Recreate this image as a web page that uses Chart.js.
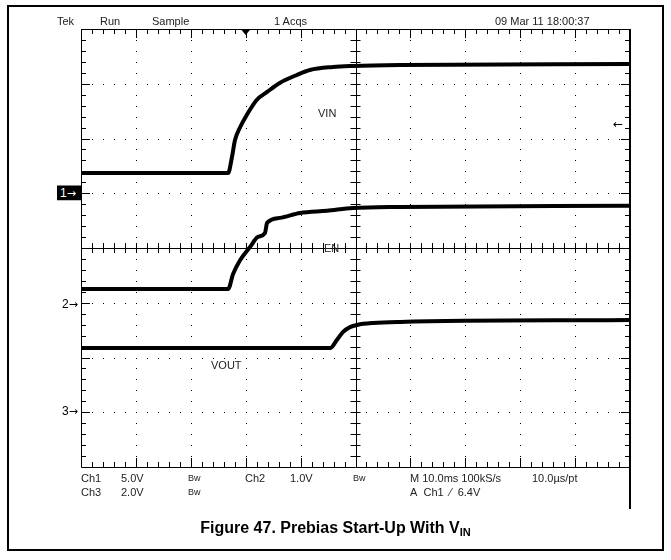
<!doctype html>
<html lang="en">
  <head>
    <script src="https://cdn.jsdelivr.net/npm/chart.js"></script>
    <meta charset="UTF-8" />
    <title>Prebias Start-Up With VIN</title>
    <style>
      body {
        margin: 0;
        background: #fff;
        font-family: "Liberation Sans", Arial, sans-serif;
      }
      #wrap {
        position: relative;
        width: 671px;
        height: 560px;
      }
      #frame {
        position: absolute;
        left: 7px;
        top: 5px;
        width: 653px;
        height: 542px;
        border: 2px solid #000;
      }
      canvas {
        position: absolute;
        left: 0;
        top: 0;
      }
      .t {
        position: absolute;
        font-size: 11px;
        line-height: 12px;
        color: #222;
        white-space: nowrap;
        transform: translateY(-50%);
      }
      .bw {
        font-size: 9px;
      }
      .mk {
        position: absolute;
        font-size: 12px;
        line-height: 15px;
        white-space: nowrap;
        transform: translateY(-50%);
      }
      .ar {
        font-family: "DejaVu Sans", sans-serif;
        font-size: 11px;
      }
      #caption {
        position: absolute;
        left: 0;
        width: 671px;
        top: 519px;
        text-align: center;
        font-weight: bold;
        font-size: 16px;
        line-height: 18px;
      }
      #caption sub {
        font-size: 11px;
        vertical-align: -3px;
      }
    </style>
  </head>
  <body>
    <div id="wrap">
      <div id="frame"></div>
      <canvas id="scope" width="671" height="560"></canvas>

      <div class="t" style="left: 57px; top: 21px">Tek</div>
      <div class="t" style="left: 100px; top: 21px">Run</div>
      <div class="t" style="left: 152px; top: 21px">Sample</div>
      <div class="t" style="left: 274px; top: 21px">1 Acqs</div>
      <div class="t" style="left: 495px; top: 21px">09 Mar 11 18:00:37</div>

      <div class="t" style="left: 318px; top: 113px">VIN</div>
      <div class="t" style="left: 324px; top: 248px">EN</div>
      <div class="t" style="left: 211px; top: 365px">VOUT</div>

      <div class="mk" style="left: 57px; top: 193px; background: #000; color: #fff; padding: 0 1px 0 3px; width: 20px">1<span class="ar">&#8594;</span></div>
      <div class="mk" style="left: 62px; top: 304px">2<span class="ar">&#8594;</span></div>
      <div class="mk" style="left: 62px; top: 411px">3<span class="ar">&#8594;</span></div>
      <div class="mk ar" style="left: 613px; top: 124px; font-size: 12px">&#8592;</div>

      <div class="t" style="left: 81px; top: 478px">Ch1</div>
      <div class="t" style="left: 121px; top: 478px">5.0V</div>
      <div class="t bw" style="left: 188px; top: 478px">Bw</div>
      <div class="t" style="left: 245px; top: 478px">Ch2</div>
      <div class="t" style="left: 290px; top: 478px">1.0V</div>
      <div class="t bw" style="left: 353px; top: 478px">Bw</div>
      <div class="t" style="left: 410px; top: 478px">M 10.0ms 100kS/s</div>
      <div class="t" style="left: 532px; top: 478px">10.0&#181;s/pt</div>
      <div class="t" style="left: 81px; top: 492px">Ch3</div>
      <div class="t" style="left: 121px; top: 492px">2.0V</div>
      <div class="t bw" style="left: 188px; top: 492px">Bw</div>
      <div class="t" style="left: 410px; top: 492px">A&nbsp; Ch1&nbsp; &#8260;&nbsp; 6.4V</div>

      <div id="caption">Figure 47. Prebias Start-Up With V<sub>IN</sub></div>
    </div>

    <script>
      // time in ms (10 ms/div), voltages
      const vinTime = [0, 26.8, 27.5, 28.05, 29.0, 30.2, 32.0, 33.9, 36.2, 39.3, 41.7, 45.9, 49.5, 58.1, 100];
      const vinVolts = [1.85, 1.85, 3.31, 4.86, 6.05, 7.15, 8.52, 9.25, 10.07, 10.8, 11.26, 11.53, 11.62, 11.71, 11.8];

      const enTime = [0, 26.8, 27.7, 29.0, 30.8, 32.2, 33.5, 33.9, 36.2, 39.9, 44.8, 49.5, 58.1, 100];
      const enVolts = [0.25, 0.25, 0.525, 0.78, 1.02, 1.2, 1.27, 1.46, 1.55, 1.64, 1.68, 1.73, 1.75, 1.77];

      const voutTime = [0, 45.4, 46.6, 47.7, 49.0, 50.3, 53.2, 58.1, 100];
      const voutVolts = [2.35, 2.35, 2.64, 2.93, 3.11, 3.19, 3.26, 3.3, 3.37];

      // channel settings: volts per division and ground marker position (divisions from centre)
      const channels = [
        { name: "VIN", time: vinTime, volts: vinVolts, perDiv: 5.0, offset: 1 },
        { name: "EN", time: enTime, volts: enVolts, perDiv: 1.0, offset: -1 },
        { name: "VOUT", time: voutTime, volts: voutVolts, perDiv: 2.0, offset: -3 },
      ];

      const triggerTime = 30;

      const graticule = {
        id: "graticule",
        beforeDatasetsDraw(chart) {
          const ctx = chart.ctx;
          const x = chart.scales.x;
          const y = chart.scales.y;
          const left = x.getPixelForValue(0);
          const right = x.getPixelForValue(100);
          const top = y.getPixelForValue(4);
          const bottom = y.getPixelForValue(-4);
          const cx = x.getPixelForValue(50);
          const cy = y.getPixelForValue(0);

          ctx.save();
          ctx.fillStyle = "#000";
          ctx.strokeStyle = "#000";
          ctx.lineWidth = 1;

          // dotted division lines
          for (let i = 1; i < 10; i++) {
            if (i === 5) continue;
            const px = Math.round(x.getPixelForValue(i * 10));
            for (let m = 1; m < 40; m++) {
              const py = Math.round(y.getPixelForValue(-4 + m * 0.2));
              ctx.fillRect(px, py, 1, 1);
            }
          }
          for (let j = 1; j < 8; j++) {
            if (j === 4) continue;
            const py = Math.round(y.getPixelForValue(-4 + j));
            for (let m = 1; m < 50; m++) {
              const px = Math.round(x.getPixelForValue(m * 2));
              ctx.fillRect(px, py, 1, 1);
            }
          }

          ctx.beginPath();
          // border
          ctx.moveTo(left + 0.5, top + 0.5);
          ctx.lineTo(right, top + 0.5);
          ctx.moveTo(left + 0.5, top);
          ctx.lineTo(left + 0.5, bottom + 0.5);
          ctx.lineTo(right, bottom + 0.5);
          // centre lines
          ctx.moveTo(Math.round(cx) + 0.5, top);
          ctx.lineTo(Math.round(cx) + 0.5, bottom);
          ctx.moveTo(left, Math.round(cy) + 0.5);
          ctx.lineTo(right, Math.round(cy) + 0.5);

          // ticks along x
          for (let m = 1; m < 50; m++) {
            const px = Math.round(x.getPixelForValue(m * 2)) + 0.5;
            const major = m % 5 === 0;
            ctx.moveTo(px, top);
            ctx.lineTo(px, top + (major ? 9 : 5));
            ctx.moveTo(px, bottom);
            ctx.lineTo(px, bottom - (major ? 9 : 5));
            ctx.moveTo(px, cy - 5);
            ctx.lineTo(px, cy + 5);
          }
          // ticks along y
          for (let m = 1; m < 40; m++) {
            const py = Math.round(y.getPixelForValue(-4 + m * 0.2)) + 0.5;
            const major = m % 5 === 0;
            ctx.moveTo(left, py);
            ctx.lineTo(left + (major ? 9 : 5), py);
            ctx.moveTo(right, py);
            ctx.lineTo(right - (major ? 9 : 5), py);
            ctx.moveTo(cx - 5, py);
            ctx.lineTo(cx + 5, py);
          }
          ctx.stroke();

          // right edge of the screen runs down past the readout
          ctx.lineWidth = 2;
          ctx.beginPath();
          ctx.moveTo(right, top);
          ctx.lineTo(right, bottom + 42);
          ctx.stroke();

          // channel ground marker lines
          ctx.lineWidth = 1;
          channels.forEach((c) => {
            const py = Math.round(y.getPixelForValue(c.offset)) + 0.5;
            ctx.beginPath();
            ctx.moveTo(left, py);
            ctx.lineTo(left + 9, py);
            ctx.stroke();
          });

          // trigger position marker
          const tx = x.getPixelForValue(triggerTime);
          ctx.beginPath();
          ctx.moveTo(tx - 5, top);
          ctx.lineTo(tx + 5, top);
          ctx.lineTo(tx, top + 6);
          ctx.closePath();
          ctx.fill();
          ctx.restore();
        },
      };

      new Chart(document.getElementById("scope").getContext("2d"), {
        type: "line",
        data: {
          datasets: channels.map((c) => ({
            label: c.name,
            data: c.time.map((t, i) => ({ x: t, y: c.offset + c.volts[i] / c.perDiv })),
            borderColor: "#000",
            borderWidth: 4,
            pointRadius: 0,
            cubicInterpolationMode: "monotone",
          })),
        },
        options: {
          responsive: false,
          animation: false,
          events: [],
          layout: { padding: { left: 81, right: 41, top: 29, bottom: 93 } },
          plugins: { legend: { display: false }, tooltip: { enabled: false } },
          scales: {
            x: { type: "linear", min: 0, max: 100, display: false },
            y: { type: "linear", min: -4, max: 4, display: false },
          },
        },
        plugins: [graticule],
      });
    </script>
  </body>
</html>
